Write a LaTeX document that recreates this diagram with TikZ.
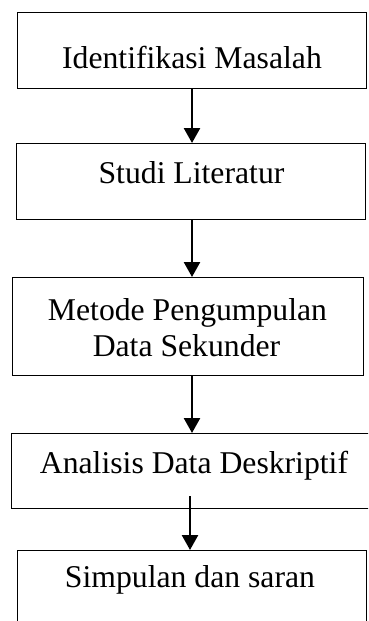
\documentclass[tikz,border=0pt]{standalone}
\usepackage{fontspec}
\setmainfont{Liberation Serif}
\usetikzlibrary{arrows.meta}
\begin{document}
\begin{tikzpicture}[x=1pt,y=-1pt,
  boxstyle/.style={draw=black, line width=1.1pt, rectangle, inner sep=0pt, anchor=north west},
  lbl/.style={font=\fontsize{31.7}{36}\selectfont, inner sep=0pt, anchor=base, align=center},
  flow/.style={line width=2.6pt, -{Triangle[width=16pt,length=15pt]}}]
\clip (0,0) rectangle (368,621);
\fill[white] (0,0) rectangle (368,621);
% boxes
\node[boxstyle, minimum width=349pt, minimum height=76pt] (b1) at (17,12) {};
\node[boxstyle, minimum width=349pt, minimum height=76pt] (b2) at (16,143) {};
\node[boxstyle, minimum width=351pt, minimum height=98pt] (b3) at (12,277) {};
\node[boxstyle, minimum width=360pt, minimum height=75pt] (b4) at (11,433) {};
\node[boxstyle, minimum width=349pt, minimum height=100pt] (b5) at (17,550) {};
% labels
\node[lbl] (t1) at (192,68) {Identifikasi Masalah};
\node[lbl] (t2) at (191.5,183) {Studi Literatur};
\node[lbl] (t3a) at (187.5,320) {Metode Pengumpulan};
\node[lbl] (t3b) at (186.5,356) {Data Sekunder};
\node[lbl] (t4) at (194,473) {Analisis Data Deskriptif};
\node[lbl] (t5) at (190,587) {Simpulan dan saran};
% connectors
\coordinate (ax) at (192,0);
\coordinate (s4) at (190,496);
\draw[flow] (b1.south -| ax) -- (b2.north -| ax);
\draw[flow] (b2.south -| ax) -- (b3.north -| ax);
\draw[flow] (b3.south -| ax) -- (b4.north -| ax);
\draw[flow] (s4) -- (b5.north -| s4);
\end{tikzpicture}
\end{document}
